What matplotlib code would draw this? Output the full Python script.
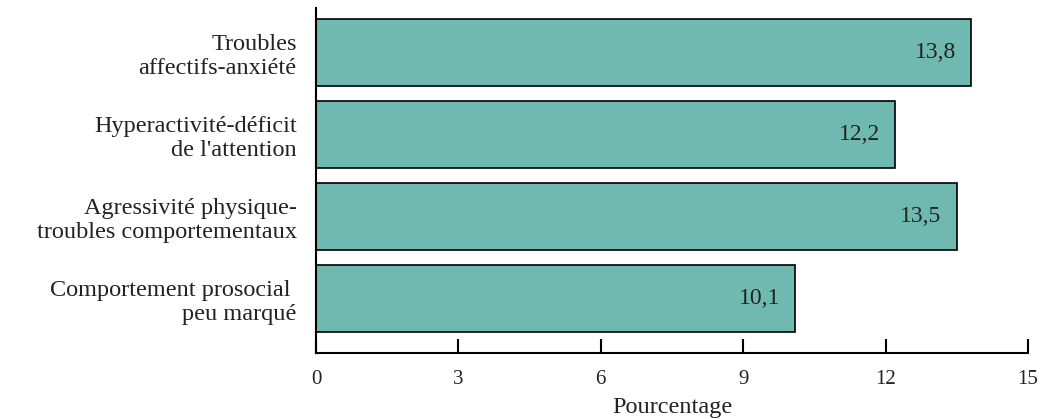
import numpy as np
import matplotlib.pyplot as plt

categories = ["Troubles\naffectifs-anxiété",
              "Hyperactivité-déficit\nde l'attention",
              "Agressivité physique-\ntroubles comportementaux",
              "Comportement prosocial \npeu marqué"]
values = [13.8, 12.2, 13.5, 10.1]
value_labels = ["13,8", "12,2", "13,5", "10,1"]
xticks = [0, 3, 6, 9, 12, 15]

plt.rcParams['font.family'] = ['Liberation Serif', 'DejaVu Serif']

fig = plt.figure(figsize=(10.45, 4.19), dpi=100)
ax = fig.add_axes([0.3024, 0.1575, 0.6813, 0.8234])

ypos = np.arange(len(categories))[::-1]
ax.barh(ypos, values, height=0.82, color='#6fb9b1', edgecolor='black', linewidth=1.2)

for y, v, lab in zip(ypos, values, value_labels):
    ax.text(v - 0.32, y, lab, ha='right', va='center', fontsize=17, color='#222222')

ax.set_xlim(0, 15)
ax.set_ylim(-0.665, 3.54)
ax.set_xticks(xticks)
ax.set_xticklabels([str(t) for t in xticks], fontsize=15, color='#222222')
ax.set_yticks(ypos)
ax.set_yticklabels(categories, fontsize=17.5, color='#222222', linespacing=1.22)
ax.tick_params(axis='x', direction='in', length=10, width=1.5, pad=12)
ax.tick_params(axis='y', length=0, pad=14)
ax.set_xlabel('Pourcentage', fontsize=17.5, color='#222222', labelpad=6)

ax.spines['top'].set_visible(False)
ax.spines['right'].set_visible(False)
ax.spines['left'].set_linewidth(1.5)
ax.spines['bottom'].set_linewidth(1.5)

plt.savefig('out.png', dpi=100)
